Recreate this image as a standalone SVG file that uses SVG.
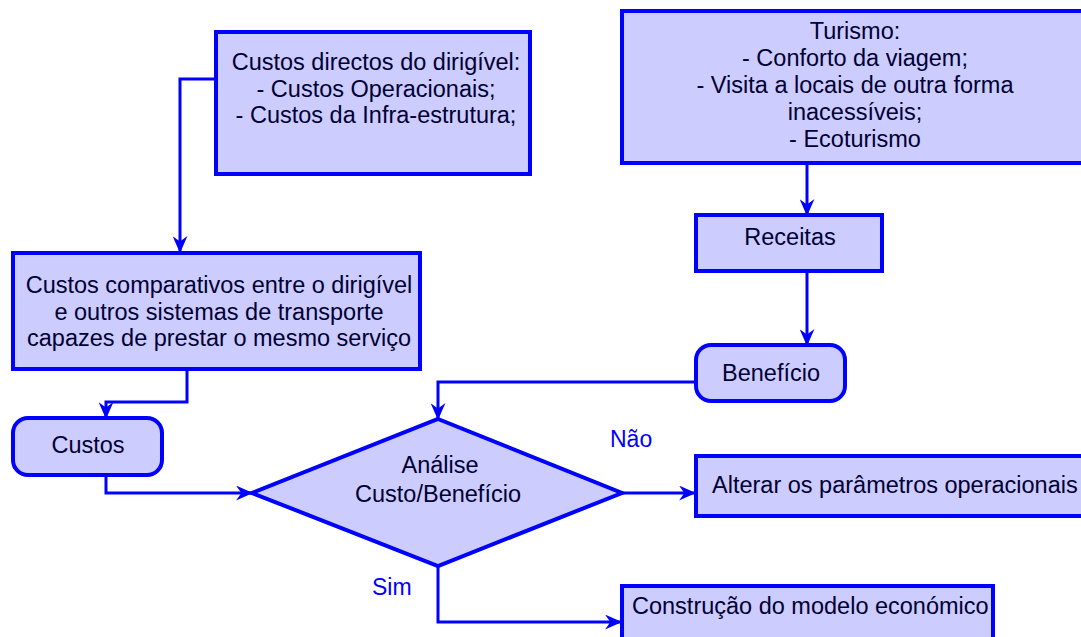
<svg xmlns="http://www.w3.org/2000/svg" width="1081" height="637" viewBox="0 0 1081 637">
<style>
.node{fill:#ccccff;stroke:#0000ff;stroke-width:4;stroke-linejoin:miter}
.t{font-family:"Liberation Sans",Arial,sans-serif;font-size:23.5px;fill:#000033;text-anchor:middle}
.ts{text-anchor:start}
.lbl{font-family:"Liberation Sans",Arial,sans-serif;font-size:23px;fill:#0000ff}
.c{fill:none;stroke:#0000ff;stroke-width:3;marker-end:url(#ah)}
</style>
<defs>
<marker id="ah" viewBox="0 0 16 14" refX="15" refY="7" markerWidth="17" markerHeight="15" markerUnits="userSpaceOnUse" orient="auto">
<path d="M0,0 L16,7 L0,14 L5,7 Z" fill="#0000ff"/>
</marker>
</defs>
<rect width="1081" height="637" fill="#ffffff"/>
<g id="connectors">
<polyline class="c" points="216,79 180,79 180,252"/>
<polyline class="c" points="807,163 807,215"/>
<polyline class="c" points="807,271 807,345"/>
<polyline class="c" points="187,369 187,402 106,402 106,418"/>
<polyline class="c" points="696,382 438,382 438,419"/>
<polyline class="c" points="106,475 106,493 252,493"/>
<polyline class="c" points="622,493 695,493"/>
<polyline class="c" points="438,566 438,622 621,622"/>
</g>
<g id="n-custos-directos">
<rect class="node" x="216" y="32" width="314" height="142"/>
<text class="t" x="376" y="70">Custos directos do dirigível:</text>
<text class="t" x="376" y="97">- Custos Operacionais;</text>
<text class="t" x="376" y="123">- Custos da Infra-estrutura;</text>
</g>
<g id="n-turismo">
<rect class="node" x="622" y="11" width="470" height="152"/>
<text class="t" x="855" y="39">Turismo:</text>
<text class="t" x="855" y="66">- Conforto da viagem;</text>
<text class="t" x="855" y="93">- Visita a locais de outra forma</text>
<text class="t" x="855" y="120">inacessíveis;</text>
<text class="t" x="855" y="147">- Ecoturismo</text>
</g>
<g id="n-receitas">
<rect class="node" x="696" y="215" width="186" height="56"/>
<text class="t" x="790" y="245">Receitas</text>
</g>
<g id="n-custos-comparativos">
<rect class="node" x="13" y="253" width="407" height="116"/>
<text class="t" x="219" y="293">Custos comparativos entre o dirigível</text>
<text class="t" x="219" y="320">e outros sistemas de transporte</text>
<text class="t" x="219" y="346">capazes de prestar o mesmo serviço</text>
</g>
<g id="n-beneficio">
<rect class="node" x="696" y="345" width="149" height="56" rx="15" ry="15"/>
<text class="t" x="771" y="381">Benefício</text>
</g>
<g id="n-custos">
<rect class="node" x="13" y="418" width="149" height="57" rx="15" ry="15"/>
<text class="t" x="88" y="453">Custos</text>
</g>
<g id="n-analise">
<polygon class="node" points="438,419 622,493 438,566 252,493"/>
<text class="t" x="440" y="473">Análise</text>
<text class="t" x="438" y="502">Custo/Benefício</text>
</g>
<g id="n-alterar">
<rect class="node" x="696" y="456" width="396" height="60"/>
<text class="t ts" x="712" y="493">Alterar os parâmetros operacionais</text>
</g>
<g id="n-construcao">
<rect class="node" x="622" y="586" width="371" height="60"/>
<text class="t ts" x="632" y="614">Construção do modelo económico</text>
</g>
<g id="labels">
<text class="lbl" x="610" y="447">Não</text>
<text class="lbl" x="372" y="595">Sim</text>
</g>
</svg>
